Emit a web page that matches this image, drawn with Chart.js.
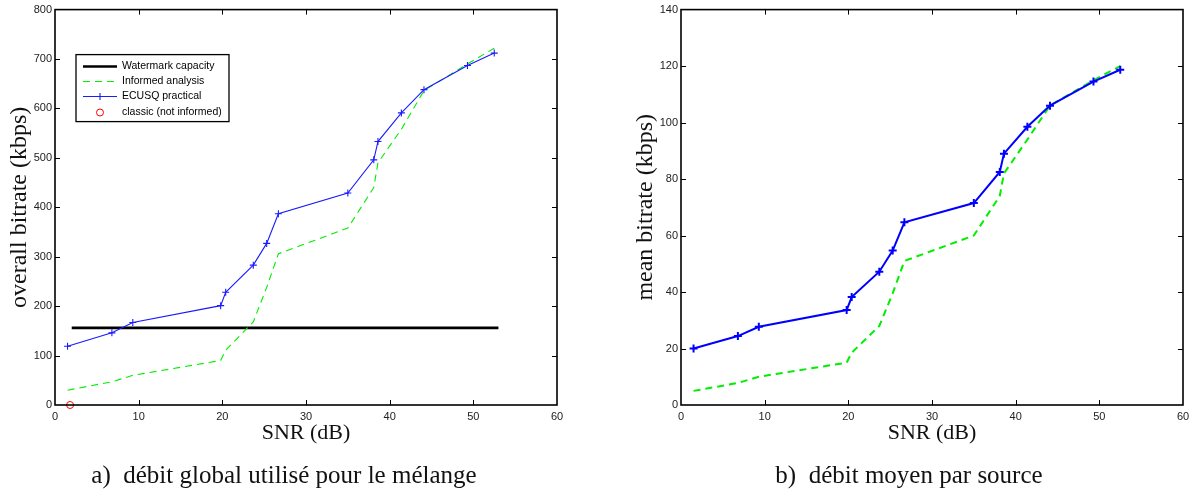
<!DOCTYPE html>
<html>
<head>
<meta charset="utf-8">
<script src="https://cdn.jsdelivr.net/npm/chart.js@4/dist/chart.umd.min.js"></script>
<style>
    body { margin: 0; background: #fff; width: 1200px; height: 492px; position: relative; overflow: hidden; }
    .panel { position: absolute; top: 0; width: 600px; height: 492px; }
    .caption { position: absolute; font-family: "Liberation Serif", serif; font-size: 25px; line-height: 25px; color: #111; text-align: center; white-space: pre; }
</style>
</head>
<body>
<div class="panel" style="left:0"><canvas id="chartA" width="600" height="492"></canvas></div>
<div class="panel" style="left:600px"><canvas id="chartB" width="600" height="492"></canvas></div>
<div class="caption" style="left:84px; width:400px; top:462px">a)  débit global utilisé pour le mélange</div>
<div class="caption" style="left:709px; width:400px; top:462px">b)  débit moyen par source</div>
<script>
// donnees
const snr = [1.5, 6.8, 9.3, 19.8, 20.4, 23.7, 25.3, 26.7, 35.0, 38.1, 38.6, 41.4, 44.1, 49.3, 52.5];

const ecusqGlobal = [119, 146, 167, 201, 228, 283, 327, 387, 429, 496, 533, 591, 638, 687, 712];
const informedGlobal = [30, 47, 60, 90, 111, 168, 238, 306, 358, 440, 490, 558, 636, 690, 722];
const capacityX = [2, 53];
const capacityGlobal = [156, 156];
const classicX = [1.8];
const classicGlobal = [0];

const ecusqMean = [20, 24.4, 27.7, 33.6, 38.2, 47.2, 54.7, 64.7, 71.5, 82.5, 89, 98.5, 106, 114.5, 118.7];
const informedMean = [5, 7.8, 10, 15, 18.5, 28, 39.5, 51, 60, 74, 82, 94, 106, 115, 120];

const xTicks = [0, 10, 20, 30, 40, 50, 60];
const yTicksGlobal = [0, 100, 200, 300, 400, 500, 600, 700, 800];
const yTicksMean = [0, 20, 40, 60, 80, 100, 120, 140];

const pts = (xs, ys) => xs.map((x, i) => ({x: x, y: ys[i]}));

// cadre + graduations vers l'interieur sur les 4 cotes (style matlab)
const boxTicks = {
    id: 'boxTicks',
    afterDraw(chart) {
        const ctx = chart.ctx;
        const a = chart.chartArea;
        const len = 5;
        ctx.save();
        ctx.strokeStyle = '#000';
        ctx.lineWidth = 1;
        chart.scales.x.ticks.forEach((t) => {
            const px = Math.round(chart.scales.x.getPixelForValue(t.value)) + 0.5;
            if (px <= a.left + 1 || px >= a.right - 1) return;
            ctx.beginPath();
            ctx.moveTo(px, a.bottom); ctx.lineTo(px, a.bottom - len);
            ctx.moveTo(px, a.top); ctx.lineTo(px, a.top + len);
            ctx.stroke();
        });
        chart.scales.y.ticks.forEach((t) => {
            const py = Math.round(chart.scales.y.getPixelForValue(t.value)) + 0.5;
            if (py <= a.top + 1 || py >= a.bottom - 1) return;
            ctx.beginPath();
            ctx.moveTo(a.left, py); ctx.lineTo(a.left + len, py);
            ctx.moveTo(a.right, py); ctx.lineTo(a.right - len, py);
            ctx.stroke();
        });
        ctx.lineWidth = 1.6;
        ctx.strokeRect(a.left, a.top, a.right - a.left, a.bottom - a.top);
        ctx.restore();
    }
};

// legende dans le graphe, en haut a gauche
const boxLegend = {
    id: 'boxLegend',
    afterDraw(chart, args, opts) {
        if (!opts.show) return;
        const ctx = chart.ctx;
        const a = chart.chartArea;
        const left = a.left + 21, top = a.top + 45, w = 153, h = 67;
        ctx.save();
        ctx.fillStyle = '#fff';
        ctx.fillRect(left, top, w, h);
        ctx.strokeStyle = '#000';
        ctx.lineWidth = 1.3;
        ctx.strokeRect(left, top, w, h);
        ctx.font = '10.5px "Liberation Sans", Arial, sans-serif';
        ctx.textBaseline = 'middle';
        chart.data.datasets.forEach((ds, i) => {
            const y = Math.round(top + 11 + i * 15.4) + 0.5;
            const x0 = left + 7, x1 = left + 41, xm = (x0 + x1) / 2;
            ctx.strokeStyle = ds.borderColor;
            ctx.lineWidth = ds.borderWidth;
            if (ds.showLine !== false) {
                ctx.setLineDash(ds.borderDash || []);
                ctx.beginPath(); ctx.moveTo(x0, y); ctx.lineTo(x1, y); ctx.stroke();
                ctx.setLineDash([]);
            }
            if (ds.pointStyle === 'cross') {
                ctx.beginPath();
                ctx.moveTo(xm - 3.5, y); ctx.lineTo(xm + 3.5, y);
                ctx.moveTo(xm, y - 3.5); ctx.lineTo(xm, y + 3.5);
                ctx.stroke();
            } else if (ds.showLine === false) {
                ctx.beginPath(); ctx.arc(xm, y, ds.pointRadius, 0, Math.PI * 2); ctx.stroke();
            }
            ctx.fillStyle = '#000';
            ctx.fillText(ds.label, left + 46, y);
        });
        ctx.restore();
    }
};

function makeChart(id, sets, yTicks, yMax, yTitle, padLeft, padRight, showLegend) {
    const tickFont = {family: '"Liberation Sans", Arial, sans-serif', size: 11};
    return new Chart(document.getElementById(id), {
        type: 'line',
        data: {datasets: sets},
        options: {
            responsive: false,
            animation: false,
            layout: {padding: {left: padLeft, top: 9, right: padRight, bottom: 42}},
            scales: {
                x: {
                    type: 'linear', min: 0, max: 60,
                    afterBuildTicks: (s) => { s.ticks = xTicks.map((v) => ({value: v})); },
                    afterFit: (s) => { s.height = 45; },
                    grid: {display: false, drawTicks: false},
                    border: {display: false},
                    ticks: {color: '#222', font: tickFont, padding: 5, maxRotation: 0},
                    title: {
                        display: true, text: 'SNR (dB)', color: '#111',
                        font: {family: '"Liberation Serif", serif', size: 22},
                        padding: {top: 0, bottom: 4}
                    }
                },
                y: {
                    type: 'linear', min: 0, max: yMax,
                    afterBuildTicks: (s) => { s.ticks = yTicks.map((v) => ({value: v})); },
                    afterFit: (s) => { s.width = 55; },
                    grid: {display: false, drawTicks: false},
                    border: {display: false},
                    ticks: {color: '#222', font: tickFont, padding: 3},
                    title: {
                        display: true, text: yTitle, color: '#111',
                        font: {family: '"Liberation Serif", serif', size: 24},
                        padding: {top: 5, bottom: 0}
                    }
                }
            },
            plugins: {
                legend: {display: false},
                tooltip: {enabled: false},
                boxLegend: {show: showLegend}
            }
        },
        plugins: [boxTicks, boxLegend]
    });
}

makeChart('chartA', [
    {label: 'Watermark capacity', data: pts(capacityX, capacityGlobal), borderColor: '#000', borderWidth: 2.6, pointRadius: 0, order: 4},
    {label: 'Informed analysis', data: pts(snr, informedGlobal), borderColor: '#00ee00', borderWidth: 1.1, borderDash: [7, 5], pointRadius: 0, order: 3},
    {label: 'ECUSQ practical', data: pts(snr, ecusqGlobal), borderColor: '#1a1aff', borderWidth: 1.1, pointStyle: 'cross', pointRadius: 3.5, pointBorderWidth: 1.1, order: 2},
    {label: 'classic (not informed)', data: pts(classicX, classicGlobal), borderColor: '#ff0000', backgroundColor: 'rgba(0,0,0,0)', borderWidth: 1, showLine: false, pointStyle: 'circle', pointRadius: 3.5, clip: false, order: 1}
], yTicksGlobal, 800, 'overall bitrate (kbps)', 0, 43, true);

makeChart('chartB', [
    {label: 'Informed analysis', data: pts(snr, informedMean), borderColor: '#00ee00', borderWidth: 2, borderDash: [7, 5], pointRadius: 0, order: 2},
    {label: 'ECUSQ practical', data: pts(snr, ecusqMean), borderColor: '#0000ff', borderWidth: 2, pointStyle: 'cross', pointRadius: 4, pointBorderWidth: 2, order: 1}
], yTicksMean, 140, 'mean bitrate (kbps)', 26, 17, false);
</script>
</body>
</html>
